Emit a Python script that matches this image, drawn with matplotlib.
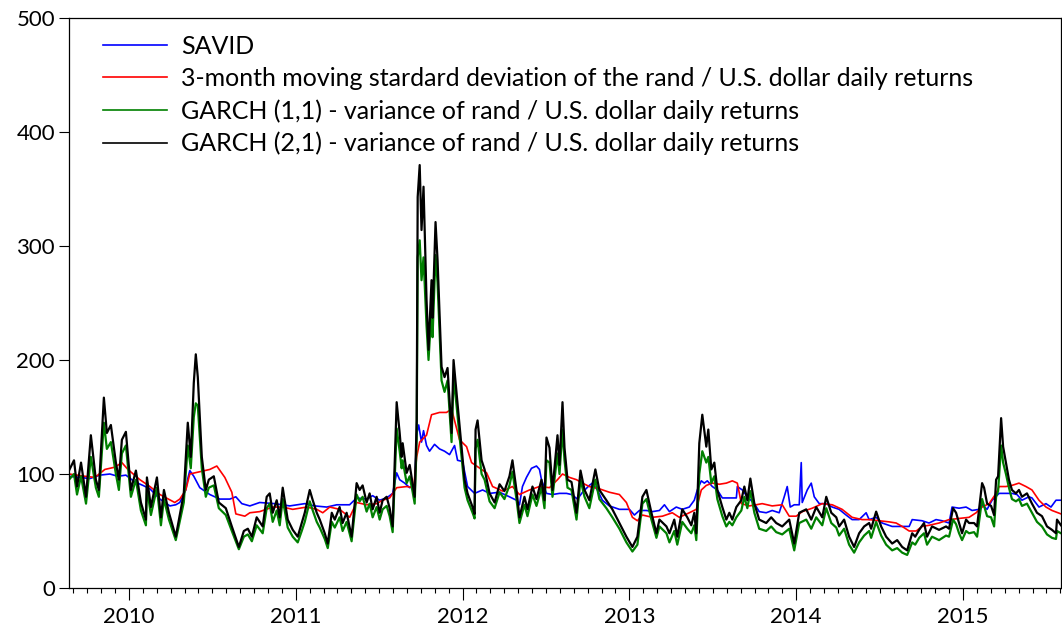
import matplotlib
matplotlib.use("Agg")
import matplotlib.pyplot as plt
from matplotlib.ticker import MultipleLocator, FixedLocator

plt.rcParams['font.family'] = ['Lato', 'DejaVu Sans']

# ---------------- data (decimal years) ----------------
garch_dates = [
    2009.641, 2009.671, 2009.689, 2009.713, 2009.743, 2009.772, 2009.802, 2009.820, 2009.850, 2009.868,
    2009.892, 2009.922, 2009.940, 2009.958, 2009.982, 2010.012, 2010.042, 2010.072, 2010.102, 2010.108,
    2010.132, 2010.168, 2010.192, 2010.210, 2010.240, 2010.281, 2010.329, 2010.353, 2010.371, 2010.389,
    2010.401, 2010.413, 2010.437, 2010.461, 2010.479, 2010.509, 2010.539, 2010.581, 2010.617, 2010.659,
    2010.689, 2010.713, 2010.737, 2010.766, 2010.802, 2010.826, 2010.844, 2010.862, 2010.886, 2010.904,
    2010.922, 2010.952, 2010.982, 2011.012, 2011.036, 2011.054, 2011.084, 2011.102, 2011.126, 2011.144,
    2011.174, 2011.192, 2011.216, 2011.234, 2011.263, 2011.281, 2011.305, 2011.335, 2011.365, 2011.383,
    2011.401, 2011.425, 2011.443, 2011.461, 2011.485, 2011.503, 2011.521, 2011.545, 2011.563, 2011.581,
    2011.605, 2011.623, 2011.635, 2011.641, 2011.665, 2011.683, 2011.701, 2011.713, 2011.725, 2011.731,
    2011.743, 2011.754, 2011.766, 2011.784, 2011.796, 2011.814, 2011.820, 2011.838, 2011.850, 2011.874,
    2011.892, 2011.910, 2011.934, 2011.946, 2011.964, 2011.994, 2012.012, 2012.030, 2012.060, 2012.072,
    2012.078, 2012.090, 2012.114, 2012.132, 2012.162, 2012.192, 2012.222, 2012.251, 2012.281, 2012.299,
    2012.323, 2012.341, 2012.371, 2012.389, 2012.419, 2012.443, 2012.473, 2012.491, 2012.503, 2012.521,
    2012.539, 2012.569, 2012.581, 2012.599, 2012.611, 2012.629,
    2012.653, 2012.683, 2012.707, 2012.731, 2012.760, 2012.796, 2012.820, 2012.862, 2012.898, 2012.940,
    2012.982, 2013.018, 2013.048, 2013.078, 2013.102, 2013.132, 2013.162, 2013.180, 2013.222, 2013.240,
    2013.269, 2013.287, 2013.317, 2013.347, 2013.371, 2013.389, 2013.401,
    2013.419, 2013.437, 2013.461, 2013.473, 2013.491, 2013.509, 2013.527, 2013.557, 2013.581, 2013.599,
    2013.617, 2013.641, 2013.671, 2013.689, 2013.707, 2013.725, 2013.749, 2013.778, 2013.820, 2013.850,
    2013.880, 2013.916, 2013.958, 2013.988,
    2014.018, 2014.060, 2014.090, 2014.120, 2014.156, 2014.180, 2014.210, 2014.240, 2014.257, 2014.287,
    2014.317, 2014.347, 2014.377, 2014.407, 2014.437, 2014.449, 2014.479, 2014.509, 2014.539, 2014.575,
    2014.605, 2014.635,
    2014.665, 2014.695, 2014.713, 2014.737, 2014.766, 2014.784, 2014.814, 2014.856, 2014.898, 2014.916,
    2014.940, 2014.958, 2014.976, 2014.994, 2015.018, 2015.036, 2015.066, 2015.084, 2015.114, 2015.126,
    2015.144, 2015.168, 2015.186, 2015.198, 2015.210, 2015.228, 2015.240, 2015.257, 2015.275, 2015.293,
    2015.317, 2015.335, 2015.353, 2015.383, 2015.413, 2015.443, 2015.473, 2015.503, 2015.533, 2015.557,
    2015.563, 2015.587,
]

garch21 = [
    103, 112, 89, 110, 80, 134, 95, 86, 167, 136, 143, 110, 95, 130, 137, 86, 103, 75, 60, 97,
    71, 97, 62, 86, 66, 45, 83, 145, 115, 180, 205, 185, 115, 86, 95, 98, 75, 70, 54, 36,
    50, 52, 45, 62, 54, 80, 83, 66, 77, 62, 88, 60, 51, 45, 57, 66, 86, 77, 66, 60,
    48, 39, 66, 60, 71, 57, 66, 45, 92, 86, 90, 75, 83, 69, 80, 66, 77, 80, 70, 54,
    163, 136, 115, 127, 101, 108, 91, 80, 147, 343, 371, 314, 352, 253, 209, 270, 237, 321, 288, 194,
    185, 193, 136, 200, 171, 124, 95, 83, 71, 65,
    139, 147, 112, 104, 83, 75, 91, 85, 98, 112, 86, 62, 80, 69, 89, 78, 95, 77, 132, 123,
    86, 134, 108, 163, 123, 95,
    93, 66, 103, 86, 77, 104, 86, 77, 69, 57, 45, 36, 45, 80, 86, 66, 48, 60, 54, 48,
    60, 45, 69, 62, 55, 66, 48,
    127, 152, 124, 139, 104, 110, 86, 71, 60, 66, 60, 71, 77, 89, 77, 96, 74, 60, 57, 62,
    57, 54, 60, 39,
    66, 69, 60, 71, 62, 80, 66, 62, 54, 60, 45, 36, 48, 54, 57, 52, 67, 54, 45, 39,
    42, 36,
    33, 48, 45, 51, 57, 45, 54, 51, 54, 52, 70, 66, 57, 48, 60, 57, 57, 54, 92, 88,
    74, 72, 64, 95, 98, 149, 124, 110, 95, 86, 83, 86, 80, 83, 74, 66, 63, 54, 51, 48,
    60, 55,
]

garch11 = [
    95, 100, 82, 98, 74, 115, 88, 80, 145, 122, 128, 100, 86, 118, 125, 80, 95, 68, 55, 88,
    64, 88, 55, 78, 60, 42, 75, 125, 105, 150, 162, 160, 105, 80, 88, 90, 70, 64, 50, 34,
    45, 47, 41, 55, 48, 70, 74, 58, 68, 55, 78, 53, 45, 40, 50, 58, 76, 68, 58, 53,
    43, 35, 58, 53, 62, 50, 58, 41, 82, 76, 80, 67, 74, 62, 71, 60, 69, 72, 63, 49,
    140, 120, 105, 112, 92, 98, 84, 74, 130, 290, 305, 270, 290, 230, 200, 245, 220, 292, 268, 182,
    172, 182, 128, 185, 160, 115, 88, 77, 66, 61,
    122, 130, 100, 95, 76, 70, 84, 78, 90, 102, 78, 57, 73, 63, 82, 72, 88, 70, 112, 110,
    80, 118, 100, 139, 112, 88,
    86, 60, 95, 80, 70, 95, 78, 70, 62, 52, 40, 32, 38, 74, 78, 60, 44, 54, 48, 40,
    50, 38, 58, 52, 48, 55, 42,
    100, 120, 110, 115, 92, 98, 78, 63, 54, 58, 55, 62, 68, 80, 70, 85, 66, 52, 50, 54,
    49, 47, 52, 33,
    57, 60, 52, 62, 55, 70, 57, 53, 46, 52, 38, 31, 40, 46, 50, 44, 58, 46, 38, 33,
    35, 31,
    29, 40, 38, 44, 48, 38, 45, 42, 46, 45, 60, 56, 48, 42, 50, 48, 49, 45, 78, 72,
    63, 62, 54, 80, 85, 125, 110, 100, 88, 78, 76, 78, 72, 74, 66, 58, 54, 47, 44, 43,
    50, 48,
]

savid_dates = [
    2009.641, 2009.707, 2009.766, 2009.826, 2009.886, 2009.934, 2009.982, 2010.036, 2010.084, 2010.126,
    2010.186, 2010.246, 2010.281, 2010.305, 2010.341, 2010.353, 2010.365, 2010.389, 2010.425, 2010.485,
    2010.545, 2010.605, 2010.641, 2010.677, 2010.725, 2010.784, 2010.874, 2010.964, 2011.054, 2011.114,
    2011.186, 2011.246, 2011.323, 2011.365, 2011.425, 2011.461, 2011.503, 2011.545, 2011.581, 2011.605,
    2011.623, 2011.653, 2011.683, 2011.713, 2011.725, 2011.737, 2011.754, 2011.766, 2011.784, 2011.802,
    2011.832, 2011.862, 2011.892, 2011.922, 2011.952, 2011.970, 2012.000, 2012.030, 2012.072, 2012.120,
    2012.162, 2012.222, 2012.281, 2012.323, 2012.341, 2012.359, 2012.383, 2012.413, 2012.443, 2012.461,
    2012.473, 2012.503, 2012.539, 2012.581, 2012.623, 2012.653, 2012.689, 2012.719, 2012.760, 2012.778,
    2012.808, 2012.838, 2012.880, 2012.940, 2013.000, 2013.030, 2013.060, 2013.102, 2013.138, 2013.180,
    2013.210, 2013.240, 2013.281, 2013.317, 2013.359, 2013.389, 2013.407, 2013.431, 2013.449, 2013.467,
    2013.497, 2013.527, 2013.557, 2013.641, 2013.647, 2013.677, 2013.707, 2013.749, 2013.778, 2013.820,
    2013.856, 2013.898, 2013.928, 2013.946, 2013.964, 2013.988, 2014.018, 2014.030, 2014.036, 2014.066,
    2014.090, 2014.108, 2014.138, 2014.180, 2014.216, 2014.257, 2014.299, 2014.335, 2014.377, 2014.419,
    2014.437, 2014.479, 2014.515, 2014.575, 2014.635, 2014.677, 2014.695, 2014.754, 2014.796, 2014.838,
    2014.874, 2014.916, 2014.934, 2014.976, 2015.018, 2015.054, 2015.096, 2015.114, 2015.144, 2015.174,
    2015.216, 2015.257, 2015.293, 2015.323, 2015.353, 2015.395, 2015.413, 2015.455, 2015.497, 2015.527,
    2015.557, 2015.587,
]

savid = [
    98, 97, 96, 99, 100, 98, 99, 93, 90, 87,
    78, 72, 73, 75, 86, 96, 103, 98, 88, 82,
    78, 78, 80, 74, 72, 75, 74, 72, 74, 72,
    71, 73, 73, 79, 78, 81, 77, 79, 83, 101,
    95, 92, 88, 90, 135, 143, 128, 138, 125, 120,
    126, 122, 120, 117, 125, 112, 111, 89, 83, 86,
    83, 84, 80, 77, 73, 89, 97, 105, 107, 104,
    95, 83, 82, 83, 83, 82, 78, 84, 90, 92,
    86, 77, 72, 69, 69, 64, 68, 68, 67, 68,
    73, 67, 71, 69, 71, 77, 86, 94, 92, 94,
    89, 86, 79, 79, 89, 86, 80, 74, 67, 66,
    68, 66, 80, 89, 71, 73, 73, 110, 75, 86,
    92, 80, 74, 74, 71, 69, 64, 60, 60, 66,
    60, 62, 57, 54, 54, 54, 60, 59, 57, 60,
    59, 57, 71, 70, 71, 68, 69, 73, 69, 77,
    83, 83, 83, 82, 77, 80, 79, 71, 74, 71,
    77, 77,
]

movstd_dates = [
    2009.641, 2009.737, 2009.796, 2009.856, 2009.916, 2009.958, 2009.994, 2010.066, 2010.126, 2010.186,
    2010.275, 2010.305, 2010.341, 2010.365, 2010.425, 2010.485, 2010.527, 2010.575, 2010.617, 2010.641,
    2010.695, 2010.725, 2010.784, 2010.862, 2010.922, 2010.982, 2011.066, 2011.126, 2011.162, 2011.204,
    2011.263, 2011.323, 2011.365, 2011.425, 2011.485, 2011.521, 2011.563, 2011.605, 2011.665, 2011.707,
    2011.725, 2011.743, 2011.784, 2011.814, 2011.862, 2011.904, 2011.934, 2011.952, 2011.982, 2012.024,
    2012.054, 2012.084, 2012.144, 2012.180, 2012.240, 2012.299, 2012.341, 2012.401, 2012.461, 2012.521,
    2012.569, 2012.599, 2012.641, 2012.683, 2012.719, 2012.760, 2012.820, 2012.880, 2012.940, 2012.982,
    2013.018, 2013.048, 2013.078, 2013.138, 2013.198, 2013.257, 2013.299, 2013.359, 2013.401, 2013.431,
    2013.461, 2013.497, 2013.539, 2013.581, 2013.617, 2013.647, 2013.671, 2013.719, 2013.760, 2013.796,
    2013.856, 2013.916, 2013.958, 2014.000, 2014.036, 2014.096, 2014.156, 2014.216, 2014.275, 2014.335,
    2014.395, 2014.437, 2014.497, 2014.557, 2014.599, 2014.635, 2014.677, 2014.719, 2014.754, 2014.796,
    2014.856, 2014.916, 2014.976, 2015.036, 2015.078, 2015.114, 2015.156, 2015.198, 2015.216, 2015.257,
    2015.293, 2015.335, 2015.377, 2015.413, 2015.455, 2015.497, 2015.533, 2015.587,
]

movstd = [
    100, 98, 97, 104, 106, 110, 104, 95, 89, 82,
    75, 78, 86, 100, 102, 104, 107, 97, 84, 65,
    63, 66, 67, 71, 71, 69, 71, 69, 66, 71,
    69, 62, 75, 73, 74, 77, 79, 88, 89, 88,
    115, 128, 134, 152, 154, 154, 157, 147, 130, 124,
    110, 107, 101, 89, 85, 89, 82, 86, 89, 88,
    95, 100, 97, 95, 92, 89, 87, 84, 82, 75,
    62, 59, 64, 62, 63, 66, 62, 66, 69, 86,
    90, 92, 91, 92, 94, 92, 74, 72, 73, 74,
    72, 73, 63, 63, 67, 70, 74, 73, 69, 62,
    60, 60, 59, 58, 57, 54, 50, 50, 54, 55,
    57, 60, 61, 62, 66, 71, 74, 83, 89, 89,
    90, 92, 89, 86, 77, 71, 68, 65,
]

labels = [
    "SAVID",
    "3-month moving stardard deviation of the rand / U.S. dollar daily returns",
    "GARCH (1,1) - variance of rand / U.S. dollar daily returns",
    "GARCH (2,1) - variance of rand / U.S. dollar daily returns",
]
colors = ["#0000FF", "#FF0000", "#008000", "#000000"]
years = [2010, 2011, 2012, 2013, 2014, 2015]
y_ticks = [0, 100, 200, 300, 400, 500]

assert len(garch_dates) == len(garch21) == len(garch11)
assert len(savid_dates) == len(savid)
assert len(movstd_dates) == len(movstd)

# ---------------- figure ----------------
fig = plt.figure(figsize=(10.62, 6.31), dpi=100)
ax = fig.add_axes([69 / 1062, 1 - 588 / 631, (1061 - 69) / 1062, (588 - 18) / 631])

ax.plot(savid_dates, savid, color=colors[0], lw=1.2, label=labels[0])
ax.plot(movstd_dates, movstd, color=colors[1], lw=1.2, label=labels[1])
ax.plot(garch_dates, garch11, color=colors[2], lw=1.6, label=labels[2])
ax.plot(garch_dates, garch21, color=colors[3], lw=1.6, label=labels[3])

ax.set_xlim(2009.641, 2015.587)
ax.set_ylim(0, 500)

ax.xaxis.set_major_locator(FixedLocator(years))
ax.set_xticklabels([str(y) for y in years])
ax.xaxis.set_minor_locator(MultipleLocator(1 / 12))
ax.yaxis.set_major_locator(FixedLocator(y_ticks))
ax.set_yticklabels([str(v) for v in y_ticks])

ax.tick_params(axis='x', which='major', direction='out', length=8.6, width=0.8,
               labelsize=16, pad=5)
ax.tick_params(axis='x', which='minor', direction='out', length=3.6, width=0.8)
ax.tick_params(axis='y', which='major', direction='out', length=7, width=0.8,
               labelsize=16, pad=3)
for s in ax.spines.values():
    s.set_linewidth(0.9)

leg = ax.legend(loc='upper left', bbox_to_anchor=(0.0343, 0.970), frameon=False,
                fontsize=18, handlelength=2.56, handletextpad=0.56,
                labelspacing=0.36, borderpad=0, borderaxespad=0)
for h in leg.get_lines():
    h.set_linewidth(1.2)

fig.savefig("out.png", dpi=100)
